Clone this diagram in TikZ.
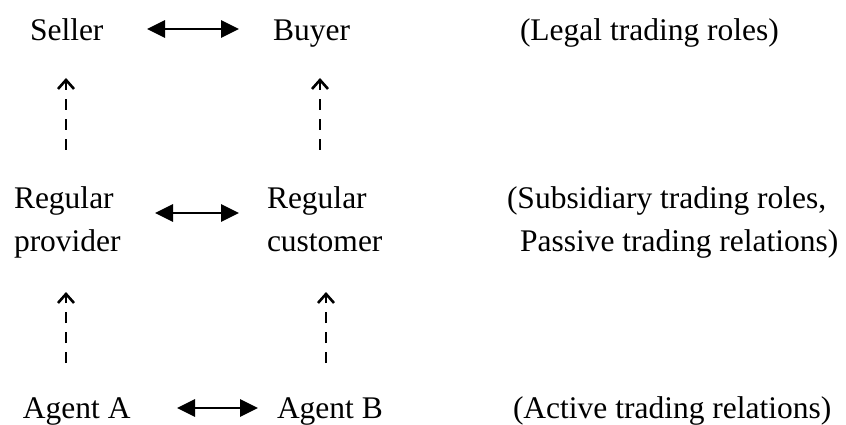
\documentclass[tikz,border=0pt]{standalone}
\usepackage{fontspec}
\setmainfont{Liberation Serif}
\usetikzlibrary{arrows.meta,calc}
\begin{document}
\begin{tikzpicture}[x=1pt,y=1pt,
  lbl/.style={inner sep=0pt,outer sep=0pt,anchor=base west,align=left,
    font=\fontsize{31.5}{43}\selectfont},
  both/.style={{Triangle[length=18pt,width=17pt]}-{Triangle[length=18pt,width=17pt]},
    line width=2.8pt},
  up/.style={-{Straight Barb[length=9pt,width=16pt,line width=2.6pt]},
    dash pattern=on 11pt off 9pt, line width=2.6pt}]
\useasboundingbox (0,0) rectangle (846,-425);

% top row: legal roles
\node[lbl] (seller) at (30,-41) {Seller};
\node[lbl] (buyer)  at (273,-41) {Buyer};
\node[lbl] (legal)  at (520,-41) {(Legal trading roles)};

% middle row: subsidiary roles (anchored on the second line)
\node[lbl] (prov) at (14,-251) {Regular\\provider};
\node[lbl] (cust) at (267,-251) {Regular\\customer};
\node[lbl] (subs) at (507,-251) {(Subsidiary trading roles,\\\hspace*{13pt}Passive trading relations)};

% bottom row: agents
\node[lbl] (agA)    at (23,-418) {Agent A};
\node[lbl] (agB)    at (277,-418) {Agent B};
\node[lbl] (active) at (513,-418) {(Active trading relations)};

% horizontal two-way relations
\draw[both] ($(seller.base west)+(117,12)$) -- ($(buyer.base west)+(-34,12)$);
\draw[both] ($(prov.base west)+(141,38)$) -- ($(cust.base west)+(-28,38)$);
\draw[both] ($(agA.base west)+(154,10)$) -- ($(agB.base west)+(-19,10)$);

% vertical dashed links between levels
\draw[up] ($(seller.base west)+(36,-109)$) -- ($(seller.base west)+(36,-37)$);
\draw[up] ($(buyer.base west)+(47,-109)$) -- ($(buyer.base west)+(47,-37)$);
\draw[up] ($(agA.base west)+(43,55)$) -- ($(agA.base west)+(43,126)$);
\draw[up] ($(agB.base west)+(49,55)$) -- ($(agB.base west)+(49,126)$);
\end{tikzpicture}
\end{document}
